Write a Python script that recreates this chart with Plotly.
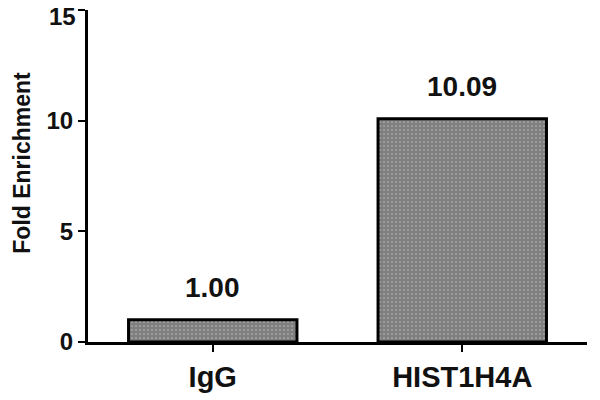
import plotly.graph_objects as go

categories = ["IgG", "HIST1H4A"]
values = [1.00, 10.09]
value_labels = ["1.00", "10.09"]
y_ticks = [0, 5, 10, 15]
y_title = "Fold Enrichment"

FONT = "Liberation Sans, Arial, sans-serif"

fig = go.Figure()
fig.add_trace(go.Bar(
    x=categories,
    y=values,
    width=0.675,
    marker=dict(
        color="white",
        line=dict(color="black", width=3),
        pattern=dict(shape=".", fgcolor="black", bgcolor="white", size=4, solidity=0.85),
    ),
    showlegend=False,
))

for c, v, t in zip(categories, values, value_labels):
    fig.add_annotation(
        x=c, y=v, text=t, showarrow=False,
        yanchor="bottom", yshift=15,
        font=dict(family=FONT, size=28, color="#111", weight="bold"),
    )

# top tick label drawn as annotation so it is not clipped at the page edge
tick_text = [str(t) for t in y_ticks]
fig.add_annotation(
    x=0, xref="paper", xanchor="right", xshift=-10,
    y=y_ticks[-1], yref="y", yanchor="middle", yshift=-6,
    text=tick_text[-1], showarrow=False,
    font=dict(family=FONT, size=24, color="#111", weight="bold"),
)
fig.add_annotation(
    x=0, xref="paper", xanchor="center", xshift=-66,
    y=0.54, yref="paper", yanchor="middle",
    text=y_title, textangle=-90, showarrow=False,
    font=dict(family=FONT, size=23, color="#111", weight="bold"),
)

# page body has an 8px margin, so the figure is sized 8px smaller
fig.update_layout(
    width=592, height=392,
    margin=dict(l=80, r=13, t=2, b=58, autoexpand=False),
    plot_bgcolor="white", paper_bgcolor="white",
    font=dict(family=FONT, color="#111"),
)
fig.update_xaxes(
    range=[-0.5, 1.5], automargin=False,
    showline=True, linecolor="black", linewidth=3,
    ticks="outside", ticklen=7, tickwidth=2, tickcolor="black",
    tickfont=dict(family=FONT, size=29, color="#111", weight="bold"),
    ticklabeloverflow="allow",
    showgrid=False, zeroline=False,
)
fig.update_yaxes(
    range=[0, 15.001], automargin=False,
    tickvals=y_ticks,
    ticktext=tick_text[:-1] + [""],
    showline=True, linecolor="black", linewidth=3,
    ticks="outside", ticklen=7, tickwidth=2, tickcolor="black",
    tickfont=dict(family=FONT, size=24, color="#111", weight="bold"),
    ticklabeloverflow="allow",
    showgrid=False, zeroline=False,
)

fig.write_html("out.html")
